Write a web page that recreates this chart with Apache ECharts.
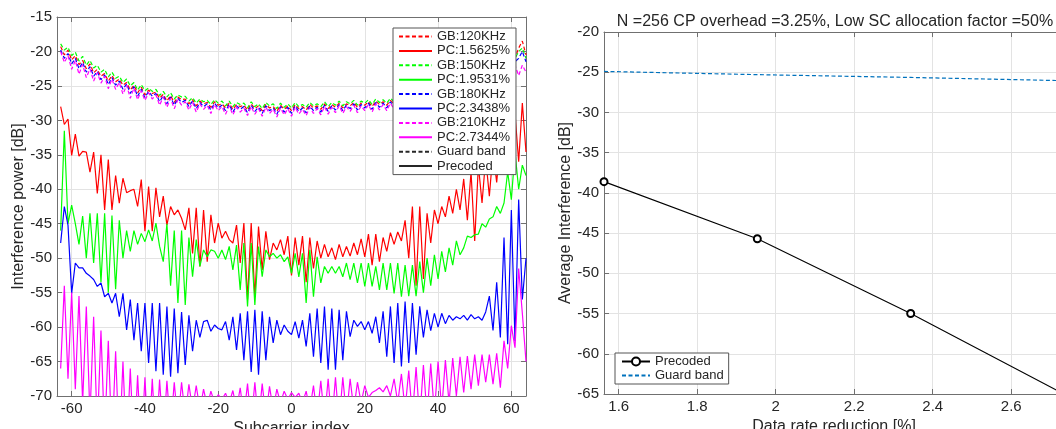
<!DOCTYPE html>
<html><head><meta charset="utf-8">
<script src="https://cdn.jsdelivr.net/npm/echarts/dist/echarts.min.js"></script>
<style>html,body{margin:0;padding:0;background:#fff}#c{width:1056px;height:429px}</style>
</head><body><div id="c"></div>
<script>
// ---------- Left panel data: subcarrier index -63..64 ----------
const subcarrierIdx = [];
for (let k = -63; k <= 64; k++) subcarrierIdx.push(k);

const gb120 = [
-19.3,-20.5,-19.8,-21.2,-20.6,-21.9,-21.3,-22.5,-21.8,-23.1,
-22.6,-23.6,-23.2,-24.3,-23.5,-24.4,-24.0,-24.9,-24.5,-25.6,
-24.9,-26.0,-25.2,-26.3,-25.6,-26.1,-25.9,-26.8,-26.2,-27.2,
-26.4,-27.4,-26.6,-27.0,-26.9,-27.6,-27.0,-27.9,-27.2,-27.6,
-27.4,-28.1,-27.3,-27.8,-27.6,-28.2,-27.5,-28.4,-27.7,-28.0,
-27.8,-28.5,-27.6,-28.3,-27.9,-28.6,-27.7,-28.2,-28.0,-28.7,
-27.8,-28.4,-27.9,-28.6,-27.7,-28.3,-28.0,-28.5,-27.7,-28.2,
-27.9,-28.4,-27.6,-28.3,-27.7,-28.1,-27.5,-28.2,-27.6,-27.9,
-27.4,-28.1,-27.5,-27.8,-27.3,-28.0,-27.2,-27.7,-27.3,-27.8,
-27.1,-27.6,-27.2,-27.5,-27.0,-27.4,-26.9,-27.3,-26.8,-27.2,
-26.7,-27.1,-26.6,-27.0,-26.5,-26.9,-26.3,-26.7,-26.0,-26.5,
-25.8,-26.2,-25.5,-26.0,-25.2,-25.6,-24.8,-25.3,-24.2,-24.8,
-23.5,-24.0,-22.5,-23.0,-21.0,-19.5,-18.5,-20.5];
const pc15625 = [
-28.0,-30.6,-29.8,-35.1,-32.0,-35.2,-34.5,-34.6,-37.5,-34.6,
-40.6,-35.0,-43.0,-35.7,-43.0,-38.0,-42.0,-38.4,-40.5,-40.2,
-40.0,-42.5,-38.6,-46.1,-39.6,-46.1,-39.8,-44.0,-41.0,-45.2,
-42.5,-43.7,-43.0,-44.2,-45.9,-42.7,-49.3,-42.7,-51.2,-43.0,
-50.5,-43.7,-47.8,-44.9,-47.1,-46.1,-47.3,-47.8,-45.2,-50.7,
-44.9,-56.0,-44.9,-55.6,-45.4,-51.7,-46.1,-50.2,-47.8,-48.8,
-47.3,-49.5,-46.8,-52.5,-47.0,-51.0,-46.8,-53.5,-47.0,-51.5,
-47.5,-50.0,-48.0,-49.8,-48.5,-50.2,-48.0,-49.8,-48.3,-49.7,
-47.8,-49.5,-47.2,-49.8,-46.5,-51.0,-46.5,-50.5,-47.0,-49.0,
-46.3,-48.0,-46.2,-47.5,-44.5,-50.0,-42.5,-54.0,-42.5,-53.0,
-43.5,-47.8,-43.0,-45.0,-42.5,-44.0,-41.0,-43.5,-40.0,-43.0,
-38.5,-44.5,-37.5,-47.5,-36.5,-42.0,-35.5,-41.0,-34.5,-39.0,
-33.0,-37.5,-30.0,-35.5,-29.0,-36.0,-27.5,-34.6];
const gb150 = [
-18.9,-19.8,-19.4,-20.6,-20.1,-21.4,-20.7,-22.0,-21.3,-22.4,
-22.0,-23.0,-22.6,-23.7,-23.0,-23.9,-23.6,-24.5,-24.0,-25.0,
-24.5,-25.6,-24.8,-25.7,-25.3,-25.8,-25.5,-26.4,-25.8,-26.6,
-26.0,-26.9,-26.3,-26.6,-26.5,-27.2,-26.7,-27.5,-26.9,-27.3,
-27.1,-27.7,-27.0,-27.5,-27.2,-27.9,-27.2,-28.0,-27.4,-27.7,
-27.5,-28.2,-27.3,-28.0,-27.6,-28.3,-27.4,-27.9,-27.6,-28.3,
-27.5,-28.1,-27.6,-28.2,-27.4,-28.0,-27.7,-28.1,-27.4,-27.9,
-27.6,-28.0,-27.3,-28.0,-27.4,-27.8,-27.2,-27.9,-27.3,-27.6,
-27.1,-27.8,-27.2,-27.5,-27.0,-27.7,-26.9,-27.4,-27.0,-27.5,
-26.8,-27.3,-26.9,-27.2,-26.7,-27.1,-26.6,-27.0,-26.5,-26.9,
-26.4,-26.8,-26.3,-26.7,-26.2,-26.6,-26.0,-26.4,-25.7,-26.2,
-25.5,-25.9,-25.2,-25.7,-24.9,-25.3,-24.5,-25.0,-23.9,-24.5,
-23.2,-23.7,-22.2,-22.7,-21.0,-20.0,-19.5,-21.0];
const pc19531 = [
-46.0,-31.5,-45.0,-42.3,-45.0,-48.0,-43.9,-50.0,-43.5,-50.7,
-43.5,-53.5,-43.5,-55.0,-43.8,-54.5,-44.5,-50.0,-46.0,-49.0,
-46.0,-48.0,-46.4,-47.6,-45.9,-47.5,-44.9,-48.3,-50.5,-45.0,
-54.0,-46.0,-56.5,-46.0,-56.8,-47.0,-52.7,-47.3,-51.2,-48.8,
-49.8,-48.8,-49.0,-50.0,-48.8,-50.2,-48.3,-51.7,-48.1,-54.6,
-47.8,-57.0,-47.8,-56.8,-48.3,-52.7,-48.8,-49.8,-49.3,-50.0,
-49.5,-50.5,-49.8,-52.2,-49.3,-52.7,-49.3,-56.5,-48.8,-55.6,
-49.8,-53.6,-51.2,-52.2,-51.2,-52.2,-51.2,-52.7,-50.7,-53.1,
-50.7,-53.6,-50.7,-54.1,-50.7,-54.1,-51.2,-54.6,-50.7,-54.6,
-50.7,-55.1,-50.7,-55.6,-51.0,-55.5,-51.0,-55.5,-50.5,-55.0,
-50.0,-54.0,-49.5,-53.0,-49.0,-52.0,-48.5,-51.0,-47.5,-49.5,
-48.5,-46.8,-47.0,-46.6,-46.5,-45.0,-45.5,-44.3,-44.0,-42.5,
-43.5,-42.0,-37.5,-41.5,-34.6,-40.0,-36.5,-38.0];
const gb180 = [
-19.8,-21.0,-20.3,-21.8,-21.0,-22.5,-21.6,-23.0,-22.2,-23.6,
-22.9,-24.1,-23.4,-24.8,-23.8,-24.9,-24.3,-25.5,-24.7,-26.1,
-25.1,-26.5,-25.5,-26.7,-25.8,-26.5,-26.1,-27.3,-26.4,-27.6,
-26.6,-27.8,-26.8,-27.4,-27.1,-28.0,-27.2,-28.3,-27.4,-28.0,
-27.6,-28.5,-27.5,-28.2,-27.8,-28.6,-27.7,-28.8,-27.9,-28.4,
-28.0,-28.9,-27.8,-28.7,-28.1,-29.0,-27.9,-28.6,-28.2,-29.1,
-28.0,-28.8,-28.1,-29.0,-27.9,-28.7,-28.2,-28.9,-27.9,-28.6,
-28.1,-28.8,-27.8,-28.7,-27.9,-28.5,-27.7,-28.6,-27.8,-28.3,
-27.6,-28.5,-27.7,-28.2,-27.5,-28.4,-27.4,-28.1,-27.5,-28.2,
-27.3,-28.0,-27.4,-27.9,-27.2,-27.8,-27.1,-27.7,-27.0,-27.6,
-26.9,-27.5,-26.8,-27.4,-26.7,-27.3,-26.5,-27.1,-26.2,-26.9,
-26.0,-26.6,-25.7,-26.4,-25.4,-26.0,-25.0,-25.7,-24.4,-25.2,
-23.7,-24.4,-22.7,-23.5,-21.5,-21.0,-20.0,-21.5];
const pc23438 = [
-47.8,-42.5,-45.2,-55.1,-50.7,-51.4,-51.4,-52.2,-52.6,-53.1,
-54.1,-53.6,-55.6,-55.1,-56.5,-55.1,-58.5,-55.1,-60.4,-56.0,
-61.9,-56.5,-63.5,-56.5,-65.2,-56.5,-66.4,-56.5,-66.9,-57.0,
-67.2,-57.3,-66.7,-57.8,-65.5,-58.3,-63.5,-59.0,-61.5,-59.2,
-59.0,-60.6,-59.7,-60.2,-60.4,-59.2,-61.9,-58.5,-63.3,-58.0,
-64.8,-57.7,-66.5,-57.5,-66.9,-57.7,-64.8,-58.5,-62.3,-59.0,
-61.1,-59.7,-60.6,-61.1,-59.2,-61.6,-59.0,-62.8,-58.0,-64.3,
-57.3,-65.2,-57.0,-66.2,-57.3,-66.2,-57.5,-64.8,-57.7,-61.4,
-59.0,-59.9,-59.2,-60.4,-59.2,-60.9,-58.5,-62.3,-57.7,-64.3,
-57.0,-65.2,-56.5,-65.7,-56.3,-65.2,-56.5,-64.0,-57.0,-61.5,
-57.5,-60.5,-58.0,-60.0,-58.0,-59.5,-58.3,-59.0,-58.5,-58.8,
-58.3,-59.0,-58.2,-58.8,-58.5,-59.0,-57.8,-55.5,-60.5,-53.5,
-61.5,-47.0,-62.5,-43.0,-62.0,-41.5,-56.0,-50.0];
const gb210 = [
-20.0,-21.6,-20.6,-22.6,-21.3,-23.3,-21.9,-23.8,-22.5,-24.3,
-23.1,-24.6,-23.6,-25.4,-24.0,-25.5,-24.5,-26.2,-24.9,-26.8,
-25.3,-27.0,-25.7,-27.1,-26.0,-26.9,-26.3,-27.8,-26.6,-28.1,
-26.8,-28.3,-27.0,-27.8,-27.3,-28.5,-27.4,-28.8,-27.6,-28.4,
-27.8,-29.0,-27.7,-28.6,-28.0,-29.1,-27.9,-29.2,-28.1,-28.8,
-28.2,-29.3,-28.0,-29.1,-28.3,-29.4,-28.1,-29.0,-28.4,-29.5,
-28.2,-29.2,-28.3,-29.4,-28.1,-29.1,-28.4,-29.3,-28.1,-29.0,
-28.3,-29.2,-28.0,-29.1,-28.1,-28.9,-27.9,-29.0,-28.0,-28.7,
-27.8,-28.9,-27.9,-28.6,-27.7,-28.8,-27.6,-28.5,-27.7,-28.6,
-27.5,-28.4,-27.6,-28.3,-27.4,-28.2,-27.3,-28.1,-27.2,-28.0,
-27.1,-27.9,-27.0,-27.8,-26.9,-27.7,-26.7,-27.5,-26.4,-27.3,
-26.2,-27.0,-25.9,-26.8,-25.6,-26.4,-25.2,-26.1,-24.6,-25.6,
-24.0,-24.9,-23.0,-24.0,-22.0,-23.5,-22.0,-23.0];
const pc27344 = [
-66.0,-54.0,-67.5,-55.0,-69.0,-55.5,-71.0,-57.0,-73.0,-58.5,
-75.0,-60.5,-76.0,-62.0,-77.0,-63.5,-78.0,-65.0,-78.0,-66.0,
-78.0,-67.0,-78.0,-67.3,-78.0,-67.5,-77.0,-67.6,-76.0,-67.8,
-75.0,-68.0,-74.0,-68.0,-73.0,-68.3,-72.0,-68.5,-72.0,-69.0,
-71.5,-69.3,-71.0,-69.8,-70.5,-69.6,-71.0,-69.2,-72.0,-68.8,
-73.0,-68.2,-74.0,-68.0,-74.0,-68.2,-73.0,-68.6,-72.0,-69.0,
-71.0,-69.3,-70.5,-69.5,-70.2,-69.6,-71.0,-69.3,-72.0,-68.5,
-73.0,-67.8,-73.5,-67.5,-74.0,-67.3,-74.0,-67.3,-73.0,-67.5,
-72.0,-68.0,-71.0,-68.5,-70.2,-69.5,-69.2,-68.8,-69.4,-68.5,
-70.0,-67.5,-71.0,-66.8,-72.0,-66.3,-73.0,-65.8,-73.5,-65.5,
-73.0,-65.3,-72.5,-65.0,-72.0,-64.8,-71.0,-64.5,-70.0,-64.3,
-69.5,-64.2,-69.0,-64.0,-68.5,-64.0,-68.0,-64.0,-68.3,-63.8,
-68.8,-62.0,-66.0,-59.8,-63.0,-51.5,-58.0,-65.0];

// ---------- Right panel data ----------
const rateReduction = [1.5625, 1.9531, 2.3438, 2.7344];
const precodedAvg = [-38.6, -45.7, -55.0, -65.0];
const guardAvg = [-24.9, -25.3, -25.65, -26.05];

// ---------- Labels ----------
const leftNames = ['GB:120KHz','PC:1.5625%','GB:150KHz','PC:1.9531%','GB:180KHz','PC:2.3438%','GB:210KHz','PC:2.7344%','Guard band','Precoded'];
const titleText = 'N =256 CP overhead =3.25%, Low SC allocation factor =50%';

const FONT = '"Liberation Sans", Arial, Helvetica, sans-serif';
const TXT = '#262626';
const AX = '#707070';
const GRIDC = '#e3e3e3';
const DASH = [4, 2.5];

function pairs(xs, ys) { return xs.map((x, i) => [x, ys[i]]); }

function leftLine(name, values, color, dashed) {
  return {
    name: name, type: 'line', xAxisIndex: 0, yAxisIndex: 0,
    data: values ? pairs(subcarrierIdx, values) : [],
    symbol: 'none', showSymbol: false, clip: true, animation: false,
    color: color,
    lineStyle: { color: color, width: 1.2, type: dashed ? DASH : 'solid' }
  };
}

const axisCommon = {
  axisLine: { show: true, onZero: false, lineStyle: { color: AX, width: 1 } },
  axisTick: { show: true, inside: true, length: 5, lineStyle: { color: AX } }
};

const chart = echarts.init(document.getElementById('c'), null, { renderer: 'canvas' });
chart.setOption({
  animation: false,
  backgroundColor: '#fff',
  textStyle: { fontFamily: FONT },
  title: {
    text: titleText, left: 835, top: 14, padding: 0, textAlign: 'center',
    textStyle: { fontFamily: FONT, fontSize: 16, fontWeight: 'normal', color: TXT }
  },
  grid: [
    { left: 57, top: 17, width: 469, height: 379, outerBoundsMode: 'none', containLabel: false },
    { left: 604, top: 32, width: 460, height: 362, outerBoundsMode: 'none', containLabel: false }
  ],
  xAxis: [
    Object.assign({}, axisCommon, {
      type: 'value', gridIndex: 0, min: -64, max: 64, splitNumber: 6,
      axisLabel: { fontSize: 15, color: TXT, fontFamily: FONT, margin: 5, showMinLabel: false, showMaxLabel: false },
      splitLine: { show: true, lineStyle: { color: GRIDC } },
      name: 'Subcarrier index', nameLocation: 'middle', nameGap: 17,
      nameTextStyle: { fontSize: 16, color: TXT, fontFamily: FONT }
    }),
    Object.assign({}, axisCommon, {
      type: 'value', gridIndex: 0, position: 'top', min: -64, max: 64, splitNumber: 6,
      axisLabel: { show: false }, splitLine: { show: false }
    }),
    Object.assign({}, axisCommon, {
      type: 'value', gridIndex: 1, min: 1.5625, max: 2.7344, splitNumber: 5,
      axisLabel: { fontSize: 15, color: TXT, fontFamily: FONT, margin: 5, showMinLabel: false, showMaxLabel: false },
      splitLine: { show: true, lineStyle: { color: GRIDC } },
      name: 'Data rate reduction [%]', nameLocation: 'middle', nameGap: 17,
      nameTextStyle: { fontSize: 16, color: TXT, fontFamily: FONT }
    }),
    Object.assign({}, axisCommon, {
      type: 'value', gridIndex: 1, position: 'top', min: 1.5625, max: 2.7344, splitNumber: 5,
      axisLabel: { show: false }, splitLine: { show: false }
    })
  ],
  yAxis: [
    Object.assign({}, axisCommon, {
      type: 'value', gridIndex: 0, min: -70, max: -15, interval: 5,
      axisLabel: { fontSize: 15, color: TXT, fontFamily: FONT, margin: 5 },
      splitLine: { show: true, lineStyle: { color: GRIDC } },
      name: 'Interference power [dB]', nameLocation: 'middle', nameGap: 30,
      nameTextStyle: { fontSize: 16, color: TXT, fontFamily: FONT }
    }),
    Object.assign({}, axisCommon, {
      type: 'value', gridIndex: 0, position: 'right', min: -70, max: -15, interval: 5,
      axisLabel: { show: false }, splitLine: { show: false }
    }),
    Object.assign({}, axisCommon, {
      type: 'value', gridIndex: 1, min: -65, max: -20, interval: 5,
      axisLabel: { fontSize: 15, color: TXT, fontFamily: FONT, margin: 5 },
      splitLine: { show: true, lineStyle: { color: GRIDC } },
      name: 'Average Interference [dB]', nameLocation: 'middle', nameGap: 29,
      nameTextStyle: { fontSize: 16, color: TXT, fontFamily: FONT }
    })
  ],
  legend: [
    {
      data: leftNames, orient: 'vertical', left: 393, top: 28,
      padding: [2, 6, 2, 5], itemGap: 1.4, itemWidth: 33, itemHeight: 10,
      backgroundColor: '#fff', borderColor: '#555', borderWidth: 1,
      selectedMode: false,
      itemStyle: { opacity: 0 },
      textStyle: { fontSize: 13, color: TXT, fontFamily: FONT }
    },
    {
      data: [
        { name: 'Precoded_R' },
        { name: 'Guard band_R', itemStyle: { opacity: 0 } }
      ],
      orient: 'vertical', left: 615, top: 353,
      padding: [2, 5, 2, 6], itemGap: 1, itemWidth: 28, itemHeight: 10,
      backgroundColor: '#fff', borderColor: '#555', borderWidth: 1,
      selectedMode: false,
      formatter: function (n) { return n.replace('_R', ''); },
      textStyle: { fontSize: 13, color: TXT, fontFamily: FONT }
    }
  ],
  series: [
    leftLine(leftNames[0], gb120, '#ff0000', true),
    leftLine(leftNames[1], pc15625, '#ff0000', false),
    leftLine(leftNames[2], gb150, '#00ff00', true),
    leftLine(leftNames[3], pc19531, '#00ff00', false),
    leftLine(leftNames[4], gb180, '#0000ff', true),
    leftLine(leftNames[5], pc23438, '#0000ff', false),
    leftLine(leftNames[6], gb210, '#ff00ff', true),
    leftLine(leftNames[7], pc27344, '#ff00ff', false),
    leftLine(leftNames[8], null, '#262626', true),
    leftLine(leftNames[9], null, '#262626', false),
    {
      name: 'Precoded_R', type: 'line', xAxisIndex: 2, yAxisIndex: 2,
      data: pairs(rateReduction, precodedAvg),
      symbol: 'emptyCircle', symbolSize: 7, showSymbol: true, clip: true,
      color: '#000',
      itemStyle: { color: '#000', borderWidth: 1 },
      lineStyle: { color: '#000', width: 1.1 }
    },
    {
      name: 'Guard band_R', type: 'line', xAxisIndex: 2, yAxisIndex: 2,
      data: pairs(rateReduction, guardAvg),
      symbol: 'none', showSymbol: false, clip: true,
      color: '#0072BD',
      lineStyle: { color: '#0072BD', width: 1.2, type: DASH }
    }
  ]
});
</script></body></html>
